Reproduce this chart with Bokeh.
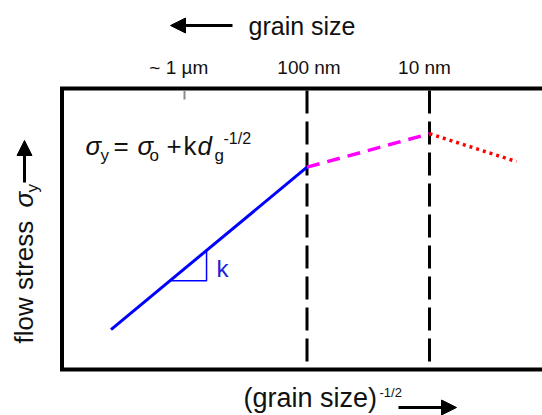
import numpy as np
from bokeh.plotting import figure
from bokeh.models import Label, Arrow, NormalHead, Range1d
from bokeh.core.properties import value
from bokeh.embed import file_html
from bokeh.resources import INLINE

# ---------------- data (schematic units) ----------------
# x: (grain size)^-1/2 in arbitrary units, y: flow stress in arbitrary units
hall_petch_x = [0.40, 2.00]
hall_petch_y = [1.42, 7.20]
transition_x = [2.00, 3.00]
transition_y = [7.20, 8.39]
inverse_x = [3.00, 3.71]
inverse_y = [8.39, 7.40]
regime_bounds = [2.0, 3.0]
grain_tick_pos = [1.0, 2.0, 3.0]
grain_tick_labels = ["~ 1  µm", "100 nm", "10 nm"]
slope_tri_x = [0.88, 1.18]

Y_MAX = 10.0          # top of the plotting box

FONT = "Liberation Sans"
TXT = "#111111"
BLUE = "#0000ff"
BASE_SHIFT = 0.38     # em correction so that given positions are text baselines

W, H = 542, 415
# page-pixel placement of the plotting box
X0, SX = 61.5, 122.5   # px of x=0, px per x-unit
Y0, SY = 369.0, 28.1   # px of y=0, px per y-unit

x_range = Range1d((0 - X0) / SX, (W - X0) / SX)
y_range = Range1d((Y0 - H) / SY, Y0 / SY)
X_END = x_range.end

p = figure(width=W, height=H, output_backend="svg", toolbar_location=None,
           x_range=x_range, y_range=y_range, min_border=0,
           x_axis_location=None, y_axis_location=None)
p.outline_line_color = None
p.xgrid.visible = False
p.ygrid.visible = False
p.background_fill_color = "white"
p.border_fill_color = "white"

def dx(px):
    return (px - X0) / SX
def dy(py):
    return (Y0 - py) / SY

# plotting box (open on the right, running off the page)
p.line([X_END, 0, 0, X_END], [Y_MAX, Y_MAX, 0, 0], line_color="black",
       line_width=4, line_join="miter")

# grain-size ticks along the top of the box
p.segment(x0=grain_tick_pos[:1], y0=[Y_MAX - 2 / SY], x1=grain_tick_pos[:1],
          y1=[Y_MAX - 11 / SY], line_color="#8c8c8c", line_width=2)
p.text(x=grain_tick_pos, y=[dy(74.5 - BASE_SHIFT * 19)] * len(grain_tick_pos),
       text=grain_tick_labels, text_font=value(FONT), text_font_size="19px",
       text_color=TXT, text_align="center", text_baseline="alphabetic",
       x_offset=[-3, 2, -5])

# regime boundaries
for b in regime_bounds:
    p.segment(x0=[b], y0=[Y_MAX - 2 / SY], x1=[b], y1=[0], line_color="black",
              line_width=3, line_dash="23 8")

# curves
p.line(hall_petch_x, hall_petch_y, line_color=BLUE, line_width=3)
p.line(transition_x, transition_y, line_color="#ff00ff", line_width=3.5,
       line_dash="13 8")
p.line(inverse_x, inverse_y, line_color="#ff0000", line_width=3.5,
       line_dash="3 4")

# slope triangle on the Hall-Petch line
ty = np.interp(slope_tri_x, hall_petch_x, hall_petch_y)
p.line([slope_tri_x[0], slope_tri_x[1], slope_tri_x[1]],
       [ty[0], ty[0], ty[1]], line_color=BLUE, line_width=1.5)

# ---------------- annotations ----------------
def lab(px, py, text, size, color=TXT, style="normal", angle=0):
    if angle == 0:
        py -= BASE_SHIFT * size
    else:
        px -= BASE_SHIFT * size
    p.add_layout(Label(x=dx(px), y=dy(py), text=text, text_font=FONT,
                       text_font_size=f"{size}px", text_color=color,
                       text_font_style=style, text_align="left",
                       text_baseline="alphabetic", angle=angle,
                       angle_units="deg"))

def arrow(x0, y0, x1, y1):
    p.add_layout(Arrow(end=NormalHead(size=15, fill_color="black",
                                      line_color="black", line_width=1),
                       x_start=dx(x0), y_start=dy(y0), x_end=dx(x1), y_end=dy(y1),
                       line_width=3, line_color="black"))

# top: grain size
lab(248, 35, "grain size", 25)
arrow(232, 25, 170, 25)

# bottom: (grain size)^-1/2
lab(243, 408, "(grain size)", 27)
lab(379, 397, "-1/2", 13)
arrow(398, 407, 456, 407)

# left: flow stress sigma_y
lab(33, 343, "flow stress", 26, angle=90)
lab(33, 207, "σ", 26, style="italic", angle=90)
lab(38, 192, "y", 17, angle=90)
arrow(24, 182, 24, 140)

# equation
lab(85, 155, "σ", 26, style="italic")
lab(100, 161, "y", 17)
lab(113, 155, "=", 26)
lab(137, 155, "σ", 26, style="italic")
lab(149, 161, "o", 17)
lab(166, 155, "+", 26)
lab(183, 155, "k", 26)
lab(197, 155, "d", 26, style="italic")
lab(214, 161, "g", 17)
lab(223, 144, "-1/2", 16)

# slope label
lab(216, 277, "k", 24, color="#2020d8")

open("out.html", "w").write(file_html(p, INLINE))
